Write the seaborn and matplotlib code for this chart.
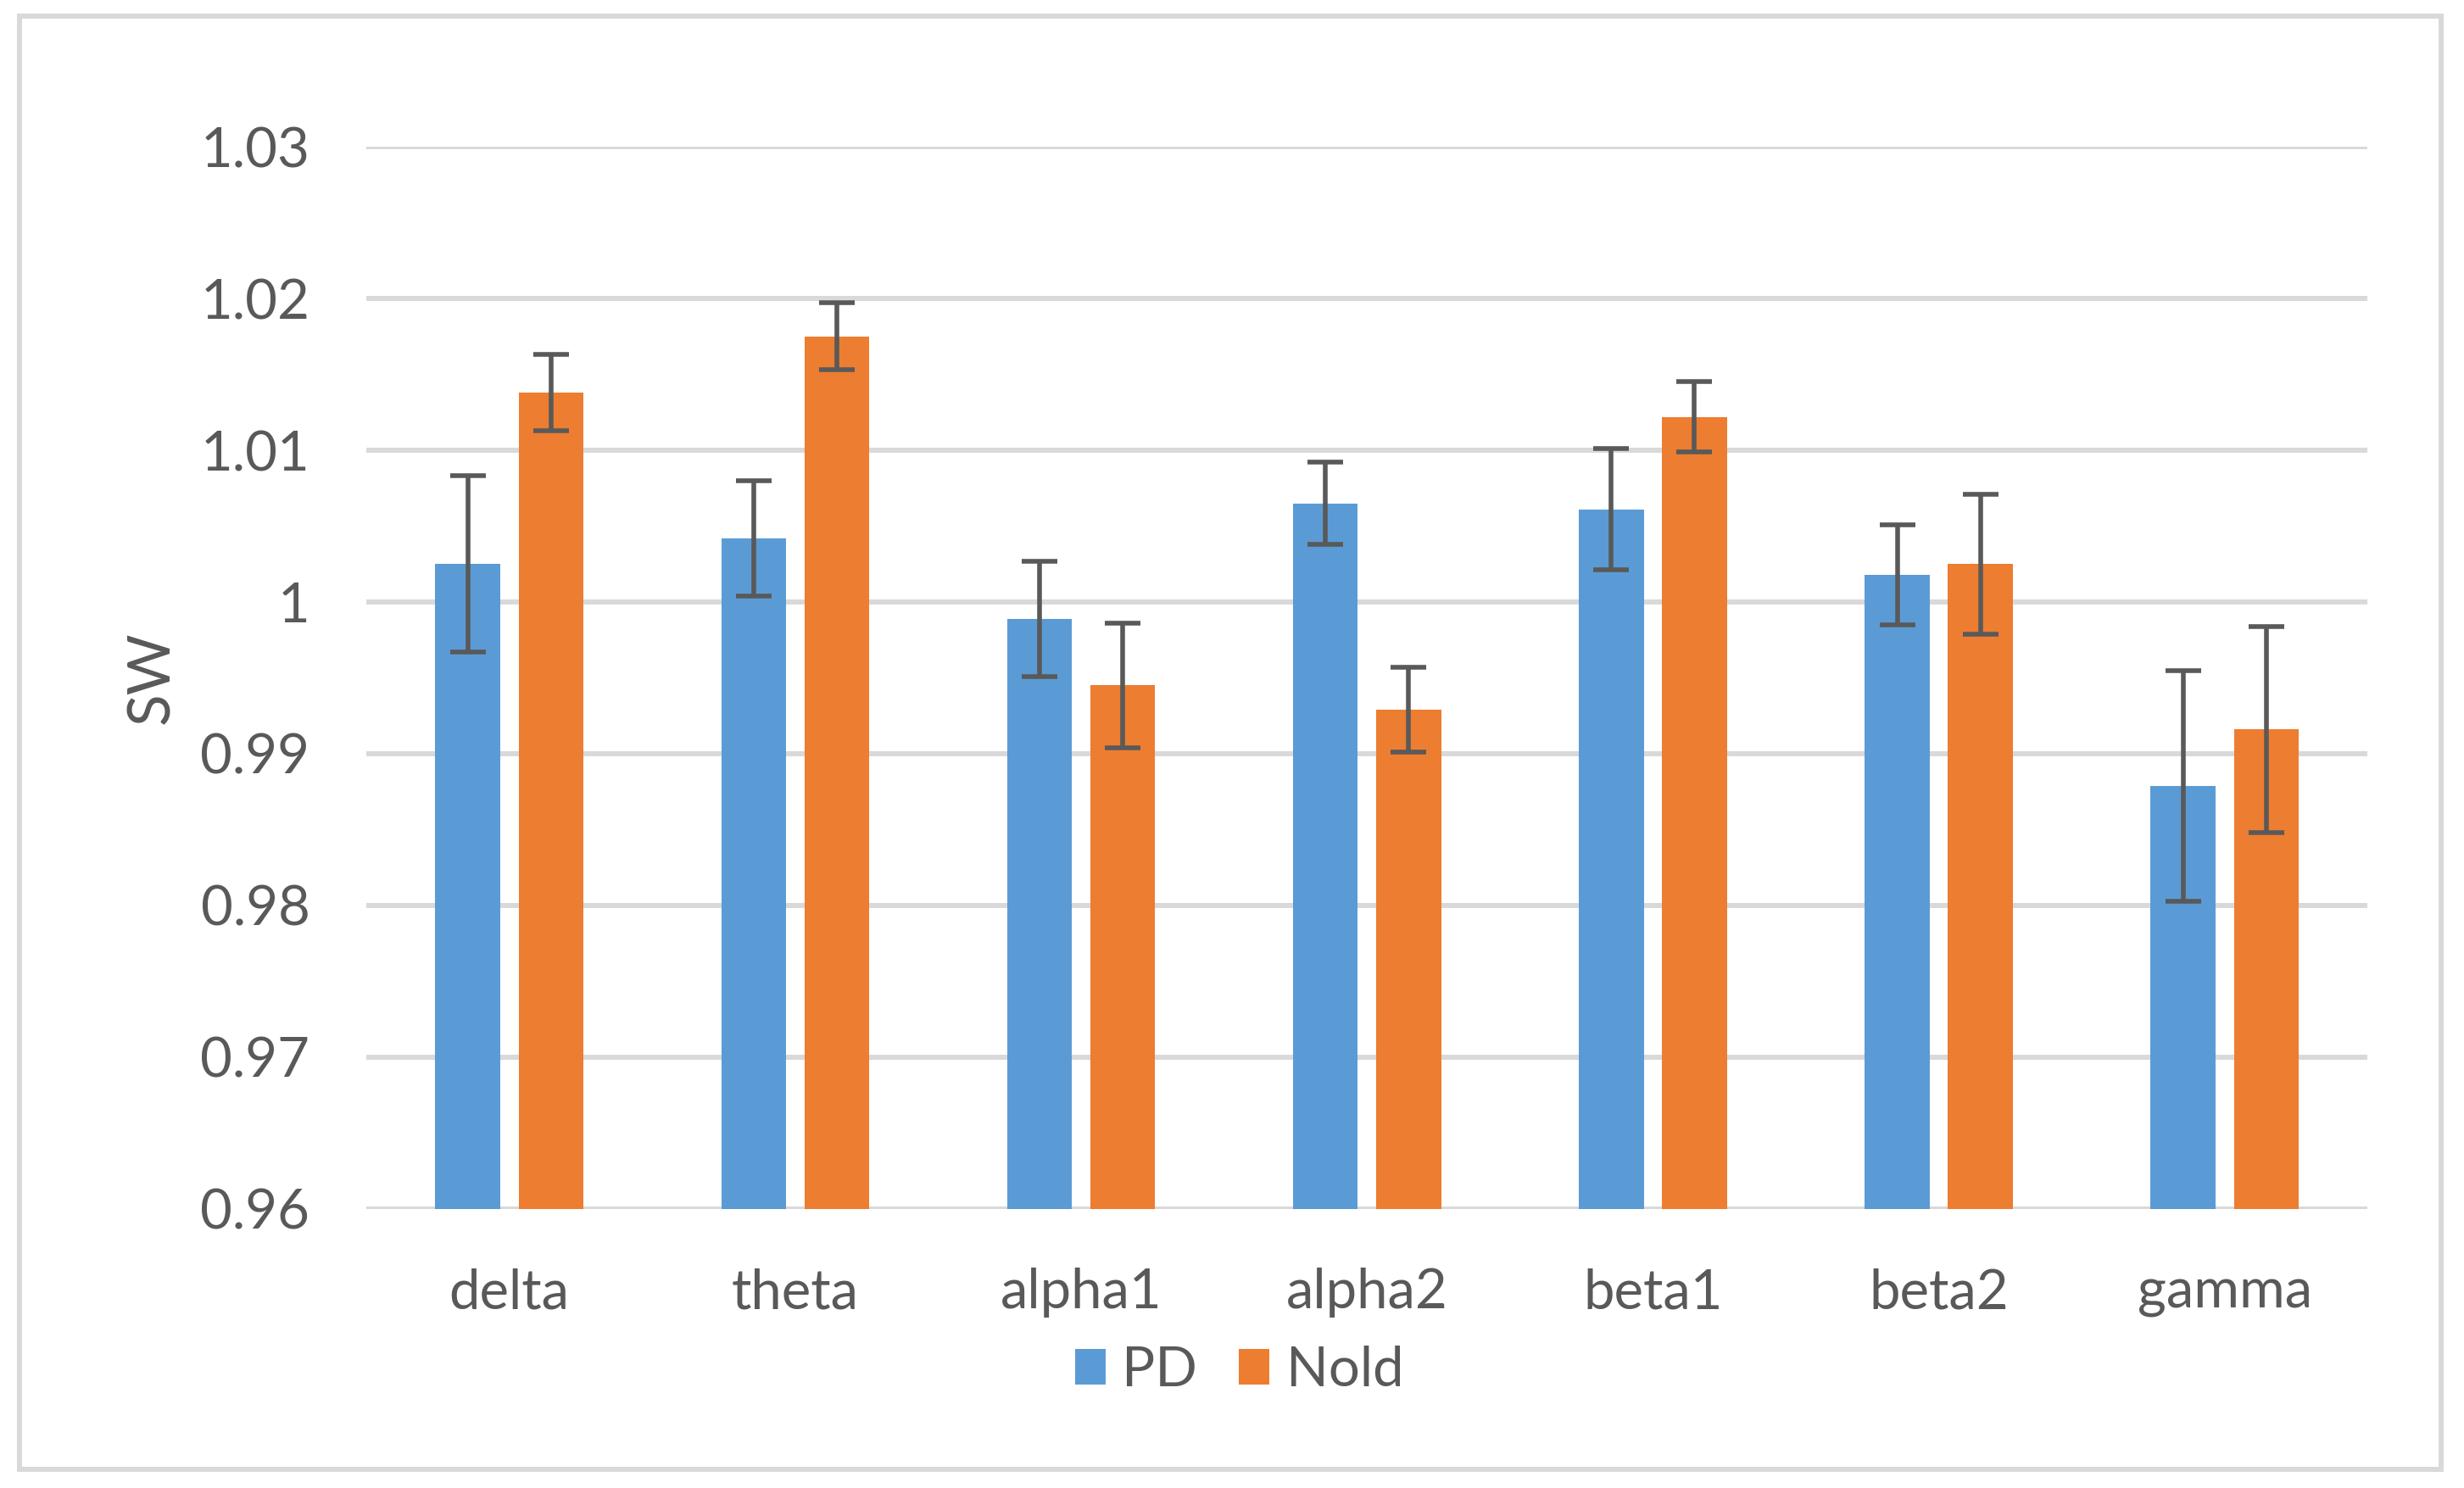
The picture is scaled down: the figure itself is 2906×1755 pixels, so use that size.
import pandas as pd
import matplotlib
matplotlib.use("Agg")
import matplotlib.pyplot as plt
import seaborn as sns
from matplotlib.patches import Rectangle

# chart values
bands = ["delta", "theta", "alpha1", "alpha2", "beta1", "beta2", "gamma"]
groups = ["PD", "Nold"]
pd_mean = [1.0025, 1.0042, 0.9989, 1.0065, 1.0061, 1.0018, 0.9879]
nold_mean = [1.0138, 1.0175, 0.9945, 0.9929, 1.0122, 1.0025, 0.9916]
pd_err = [0.0058, 0.0038, 0.0038, 0.0027, 0.0040, 0.0033, 0.0076]
nold_err = [0.0025, 0.0022, 0.0041, 0.0028, 0.0023, 0.0046, 0.0068]
y_ticks = [0.96, 0.97, 0.98, 0.99, 1.00, 1.01, 1.02, 1.03]
y_tick_labels = ["0.96", "0.97", "0.98", "0.99", "1", "1.01", "1.02", "1.03"]

sns.set_style("white")
plt.rcParams["font.family"] = ["Lato", "DejaVu Sans"]

text_color = "#595959"
grid_color = "#d9d9d9"
colors = ["#5B9BD5", "#ED7D31"]

# long-form table for seaborn
df = pd.DataFrame({
    "band": bands * 2,
    "SW": pd_mean + nold_mean,
    "group": [groups[0]] * len(bands) + [groups[1]] * len(bands),
})
errs = [pd_err, nold_err]

fig = plt.figure(figsize=(29.06, 17.55), dpi=100)
ax = fig.add_axes([0.1487, 0.1875, 0.8122, 0.7139])

sns.barplot(data=df, x="band", y="SW", hue="group", hue_order=groups,
            palette=colors, saturation=1, errorbar=None, width=0.582,
            gap=0.22, linewidth=0, ax=ax)

# error bars centred on each bar
for container, err in zip(ax.containers, errs):
    xs = [b.get_x() + b.get_width() / 2 for b in container]
    ys = [b.get_height() for b in container]
    ax.errorbar(xs, ys, yerr=err, fmt="none", ecolor=text_color,
                elinewidth=4.0, capsize=15, capthick=4.0, zorder=5)

ax.set_ylim(0.96, 1.03)
ax.set_yticks(y_ticks)
ax.set_yticklabels(y_tick_labels)
ax.set_xlim(-0.5, len(bands) - 0.5)
ax.set_axisbelow(True)
ax.yaxis.grid(True, color=grid_color, linewidth=4.3)
ax.xaxis.grid(False)
for s in ax.spines.values():
    s.set_visible(False)
ax.tick_params(axis="both", length=0, labelsize=47, colors=text_color)
ax.tick_params(axis="y", pad=48)
ax.tick_params(axis="x", pad=50)
ax.set_xlabel("")
ax.set_ylabel("SW", fontsize=50, color=text_color, labelpad=18)

sns.move_legend(ax, "center", bbox_to_anchor=(0.503, 0.079),
                bbox_transform=fig.transFigure, ncol=2, frameon=False,
                title=None, fontsize=47, handlelength=0.55,
                handleheight=0.63, handletextpad=0.3, columnspacing=0.75)
for t in ax.get_legend().get_texts():
    t.set_color(text_color)

# outer chart border
fig.add_artist(Rectangle((0.0079, 0.0125), 0.9828, 0.9767,
                         transform=fig.transFigure, fill=False,
                         edgecolor=grid_color, linewidth=4.3))

fig.savefig("out.png", dpi=100, facecolor="white")
